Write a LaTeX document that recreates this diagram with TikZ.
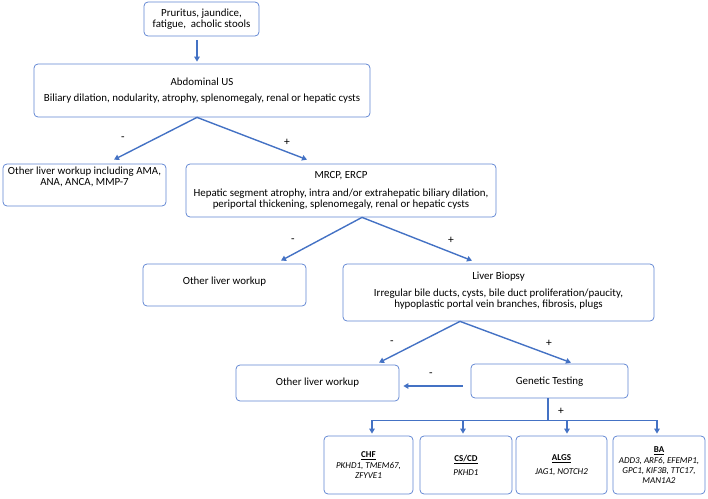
\documentclass[tikz,border=0pt]{standalone}
\usepackage{fontspec}
\setmainfont{Carlito}
\usetikzlibrary{arrows.meta}
\definecolor{lineblue}{HTML}{4472C4}
\definecolor{boxblue}{HTML}{5F84D2}
\begin{document}
\begin{tikzpicture}[x=1pt,y=-1pt,
  box/.style={draw=boxblue,line width=0.75pt,rounded corners=4pt,align=center,inner sep=2pt,font=\fontsize{10.9}{11.4}\selectfont},
  genebox/.style={box,minimum width=#1,minimum height=58,font=\fontsize{9}{9.7}\selectfont},
  link/.style={draw=lineblue,line width=1.4pt,-{Triangle[length=5pt,width=5.5pt]}},
  sign/.style={font=\fontsize{11.5}{12}\selectfont,inner sep=0pt}]
\useasboundingbox (0,0) rectangle (708,498);
% boxes
\node[box,minimum width=115,minimum height=34] (sympt) at (201.5,19) {Pruritus, jaundice,\\fatigue,~ acholic stools};
\node[box,minimum width=336,minimum height=53] (abdus) at (202,90.5) {Abdominal US\\[4pt]Biliary dilation, nodularity, atrophy, splenomegaly, renal or hepatic cysts};
\node[box,minimum width=163,minimum height=42,text depth=17pt] (other1) at (84.5,185) {Other liver workup including AMA,\\ANA, ANCA, MMP-7};
\node[box,minimum width=310,minimum height=53] (mrcp) at (341,190.5) {MRCP, ERCP\\[6pt]Hepatic segment atrophy, intra and/or extrahepatic biliary dilation,\\periportal thickening, splenomegaly, renal or hepatic cysts};
\node[box,minimum width=163,minimum height=42,text depth=8pt] (other2) at (224.5,285) {Other liver workup};
\node[box,minimum width=311,minimum height=57,text depth=5pt] (biop) at (498.5,292.5) {Liver Biopsy\\[5pt]Irregular bile ducts, cysts, bile duct proliferation/paucity,\\hypoplastic portal vein branches, fibrosis, plugs};
\node[box,minimum width=163,minimum height=36] (other3) at (317.5,383) {Other liver workup};
\node[box,minimum width=157,minimum height=34,text depth=0pt] (gene) at (549.5,381) {Genetic Testing};
\node[genebox=89] (chf) at (368.5,465) {\textbf{\underline{CHF}}\\[1.5pt]\textit{PKHD1, TMEM67,}\\\textit{ZFYVE1}};
\node[genebox=92] (cscd) at (466,465) {\textbf{\underline{CS/CD}}\\[4pt]\textit{PKHD1}};
\node[genebox=91] (algs) at (561.5,465) {\textbf{\underline{ALGS}}\\[4pt]\textit{JAG1, NOTCH2}};
\node[genebox=92] (ba) at (659,465) {\textbf{\underline{BA}}\\[1.5pt]\textit{ADD3, ARF6, EFEMP1,}\\\textit{GPC1, KIF3B, TTC17,}\\\textit{MAN1A2}};
% signs
\node[sign] (n1) at (123,139) {-};
\node[sign] (p1) at (287,142) {+};
\node[sign] (n2) at (293,241) {-};
\node[sign] (p2) at (451,240) {+};
\node[sign] (n3) at (392,343) {-};
\node[sign] (p3) at (549,343) {+};
\node[sign] (n4) at (431,375) {-};
\node[sign] (p4) at (561,411) {+};
% arrows
\draw[link] ([xshift=-4.5pt,yshift=-4pt]sympt.south) -- ([xshift=-5pt,yshift=2pt]abdus.north);
\draw[link] ([xshift=-5pt]abdus.south) -- ([xshift=29.5pt,yshift=4pt]other1.north);
\draw[link] ([xshift=-5pt]abdus.south) -- ([xshift=-34pt,yshift=4pt]mrcp.north);
\draw[link] ([xshift=21pt]mrcp.south) -- ([xshift=56.5pt,yshift=3pt]other2.north);
\draw[link] ([xshift=21pt]mrcp.south) -- ([xshift=-26.5pt,yshift=3pt]biop.north);
\draw[link] ([xshift=-38.5pt]biop.south) -- ([xshift=61.5pt,yshift=2pt]other3.north);
\draw[link] ([xshift=-38.5pt]biop.south) -- ([xshift=21.5pt,yshift=1pt]gene.north);
\draw[link] ([xshift=-8pt,yshift=-5pt]gene.west) -- ([xshift=4pt,yshift=-3pt]other3.east);
\coordinate (split) at ([xshift=-1.5pt,yshift=-22pt]gene.south);
\draw[draw=lineblue,line width=1.4pt] ([xshift=-1.5pt]gene.south) -- (split);
\foreach \b/\dx in {chf/3.5,cscd/-3,algs/5.5,ba/-2}
  \draw[link] (split) -| ([xshift=\dx pt,yshift=2pt]\b.north);
\end{tikzpicture}
\end{document}
